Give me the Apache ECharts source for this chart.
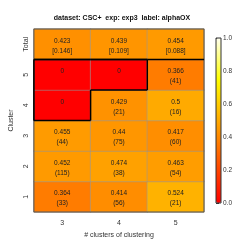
<!DOCTYPE html>
<html><head><meta charset="utf-8">
<script src="https://cdn.jsdelivr.net/npm/echarts@6/dist/echarts.min.js"></script>
<style>html,body{margin:0;padding:0;background:#fff}#c{width:249px;height:249px}</style>
</head><body><div id="c"></div>
<script>
const xCats = ['3', '4', '5'];
const yCats = ['1', '2', '3', '4', '5', 'Total'];
const row1 = [0.364, 0.414, 0.524];
const row2 = [0.452, 0.474, 0.463];
const row3 = [0.455, 0.44, 0.417];
const row4 = [0, 0.429, 0.5];
const row5 = [0, 0, 0.366];
const rowTotal = [0.423, 0.439, 0.454];
const count1 = ['33', '56', '21'];
const count2 = ['115', '38', '54'];
const count3 = ['44', '75', '60'];
const count4 = ['', '21', '16'];
const count5 = ['', '', '41'];
const sdTotal = ['0.146', '0.109', '0.088'];
const cbTicks = [0, 0.2, 0.4, 0.6, 0.8, 1.0];

const rows = [row1, row2, row3, row4, row5, rowTotal];
const extras = [count1, count2, count3, count4, count5, sdTotal];
const data = [];
rows.forEach((r, yi) => r.forEach((v, xi) => {
  const e = extras[yi][xi];
  const second = yi === 5 ? '[' + e + ']' : (e === '' ? ' ' : '(' + e + ')');
  data.push({ value: [xi, yi, v], extra: second });
}));
const isZero = (xi, yi) => yi < 5 && xi >= 0 && xi < 3 && yi >= 0 && rows[yi][xi] === 0;

const FONT = 'Liberation Sans';
const chart = echarts.init(document.getElementById('c'), null, { renderer: 'canvas' });
chart.setOption({
  animation: false,
  textStyle: { fontFamily: FONT },
  title: {
    text: 'dataset: CSC+  exp: exp3  label: alphaOX',
    left: 117, top: 10, textAlign: 'center',
    textStyle: { fontSize: 7, fontWeight: 'bold', color: '#111', fontFamily: FONT }
  },
  grid: [
    { left: 29, top: 29, width: 175, height: 183, show: true, borderColor: '#555', borderWidth: 1, backgroundColor: 'transparent', z: 5 },
    { left: 216, top: 38, width: 5, height: 165, show: true, borderColor: '#333', borderWidth: 1, backgroundColor: 'transparent', z: 10 }
  ],
  xAxis: [
    { type: 'category', data: xCats, gridIndex: 0,
      axisLine: { show: false }, axisTick: { show: false }, splitLine: { show: false },
      axisLabel: { fontSize: 7, color: '#333', margin: 8, fontFamily: FONT },
      name: '# clusters of clustering', nameLocation: 'middle', nameGap: 14,
      nameTextStyle: { fontSize: 7, color: '#333', fontFamily: FONT } },
    { type: 'value', gridIndex: 1, show: false, min: 0, max: 1 }
  ],
  yAxis: [
    { type: 'category', data: yCats, gridIndex: 0,
      axisLine: { show: false }, axisTick: { show: false }, splitLine: { show: false },
      axisLabel: { fontSize: 7, color: '#333', rotate: 90, margin: 4, fontFamily: FONT },
      name: 'Cluster', nameLocation: 'middle', nameGap: 15, nameRotate: 90,
      nameTextStyle: { fontSize: 7, color: '#333', fontFamily: FONT } },
    { type: 'value', gridIndex: 1, position: 'right', min: 0, max: 1, interval: 0.2,
      axisLine: { show: false }, splitLine: { show: false },
      axisTick: { show: true, length: 3, lineStyle: { color: '#333' } },
      axisLabel: { fontSize: 6.5, color: '#333', margin: 2, formatter: v => cbTicks.includes(Math.round(v*10)/10) ? v.toFixed(1) : '', fontFamily: FONT } }
  ],
  visualMap: {
    type: 'continuous', min: 0, max: 1, seriesIndex: 0,
    left: 216, top: 38, itemWidth: 5, itemHeight: 165, padding: 0,
    calculable: false, showLabel: false, text: null, hoverLink: false,
    textStyle: { fontSize: 0 },
    inRange: { color: ['#FF0000', '#FF5500', '#FFAA00', '#FFFF00', '#FFFFF0'] }
  },
  series: [
    { type: 'heatmap', xAxisIndex: 0, yAxisIndex: 0, data: data,
      itemStyle: { borderColor: 'rgba(150,150,150,0.55)', borderWidth: 1 },
      emphasis: { disabled: true },
      label: { show: true, fontSize: 6.5, lineHeight: 10, color: '#222', offset: [0, 1.5], fontFamily: FONT,
        formatter: p => p.value[2] + '\n' + p.data.extra } },
    { type: 'custom', xAxisIndex: 0, yAxisIndex: 0, z: 6, silent: true,
      data: data.map(d => d.value),
      renderItem: (params, api) => {
        const xi = api.value(0), yi = api.value(1);
        const c = api.coord([xi, yi]);
        const s = api.size([1, 1]);
        const l = c[0] - s[0] / 2, r = c[0] + s[0] / 2, t = c[1] - s[1] / 2, b = c[1] + s[1] / 2;
        const segs = [];
        if (yi === 5) segs.push([l, b, r, b]);
        if (isZero(xi, yi)) {
          if (!isZero(xi - 1, yi)) segs.push([l, t, l, b]);
          if (!isZero(xi + 1, yi)) segs.push([r, t, r, b]);
          if (!isZero(xi, yi - 1)) segs.push([l, b, r, b]);
          if (!isZero(xi, yi + 1)) segs.push([l, t, r, t]);
        }
        return { type: 'group', children: segs.map(q => ({
          type: 'line', shape: { x1: q[0], y1: q[1], x2: q[2], y2: q[3] },
          style: { stroke: '#000', lineWidth: 1.5 } })) };
      } }
  ]
});
</script></body></html>
